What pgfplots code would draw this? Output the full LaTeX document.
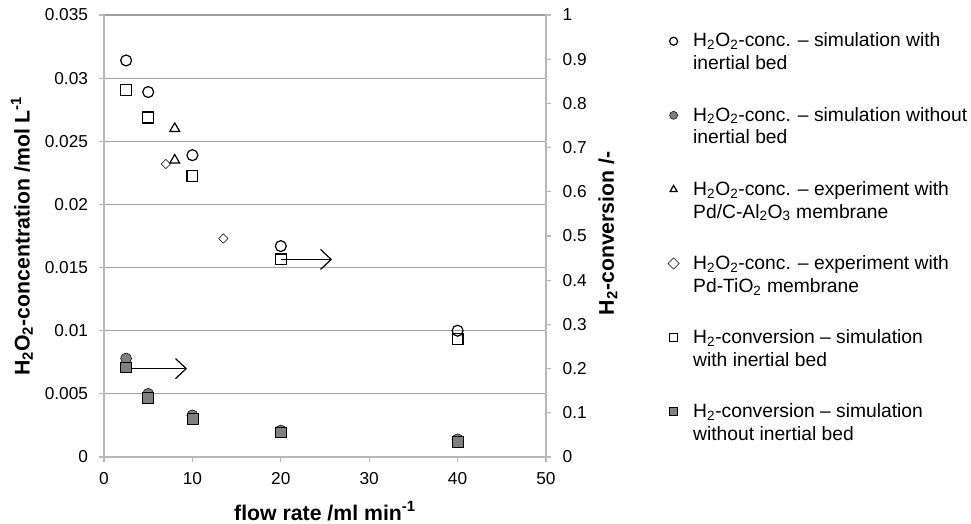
\documentclass[border=0pt]{standalone}
\usepackage{fontspec}
\setmainfont{Liberation Sans}
\usepackage{pgfplots}
\pgfplotsset{compat=1.18}
\usetikzlibrary{arrows.meta}
\definecolor{markgray}{RGB}{128,128,128}
\definecolor{gridgray}{RGB}{160,160,160}
\definecolor{axisgray}{RGB}{185,185,185}

\begin{document}
\fontsize{13}{16}\selectfont
\begin{tikzpicture}
\useasboundingbox (-78bp,-50.25bp) rectangle (650.25bp,342.75bp);
\pgfplotsset{
  common/.style={
    scale only axis, width=331.5bp, height=331.5bp,
    xmin=0, xmax=50,
    only marks,
    axis line style={axisgray, line width=0.8bp},
    tick style={axisgray, line width=0.8bp},
    tick align=outside, major tick length=4bp,
    /pgf/number format/assume math mode=true,
    scaled y ticks=false,
    label style={font=\fontsize{16}{19}\selectfont\bfseries},
    mark options={line width=0.9bp, solid},
  },
  % legend marker: one small mark at the height of the first text line
  legmark/.style={
    legend image code/.code={
      \path[draw=none, fill=none] (-5bp,0bp) -- (12.7bp,0bp);
      \draw[##1, mark size=3bp] plot coordinates {(0bp,8.6bp)};
    },
  },
}
\begin{axis}[
  common,
  ymin=0, ymax=0.035,
  axis x line*=bottom, axis y line*=left,
  xtick={0,10,20,30,40,50},
  ytick={0,0.005,0.01,0.015,0.02,0.025,0.03,0.035},
  yticklabel style={/pgf/number format/fixed, /pgf/number format/precision=3, xshift=-3.5bp},
  xticklabel style={yshift=-3bp},
  xlabel style={yshift=-4bp},
  ymajorgrids, grid style={gridgray, line width=0.8bp},
  xlabel={flow rate /ml min\textsuperscript{-1}},
  ylabel={H\textsubscript{2}O\textsubscript{2}-concentration /mol L\textsuperscript{-1}},
  legend style={at={(rel axis cs:1.264,0.972)}, anchor=north west, draw=none, fill=none,
                font=\fontsize{14.5}{17.25}\selectfont, row sep=22bp,
                cells={align=left, anchor=west}},
  legend cell align=left,
]
\addplot+[mark=o, black, mark size=4.1bp, legmark] coordinates {
  (2.5,0.0314) (5,0.0289) (10,0.0239) (20,0.0167) (40,0.0100)
};
\addlegendentry{H\textsubscript{2}O\textsubscript{2}-conc. – simulation with\\inertial bed}
\addplot+[mark=*, black, mark options={fill=markgray}, mark size=4.1bp, legmark] coordinates {
  (2.5,0.0078) (5,0.0050) (10,0.0033) (20,0.0021) (40,0.0014)
};
\addlegendentry{H\textsubscript{2}O\textsubscript{2}-conc. – simulation without\\inertial bed}
\addplot+[mark=triangle, black, mark size=4.3bp, legmark] coordinates {
  (8,0.0260) (8,0.0235)
};
\addlegendentry{H\textsubscript{2}O\textsubscript{2}-conc. – experiment with\\Pd/C-Al\textsubscript{2}O\textsubscript{3} membrane}
\addplot+[mark=square, black, mark options={rotate=45}, mark size=2.5bp, legmark] coordinates {
  (7,0.0232) (13.5,0.0173)
};
\addlegendentry{H\textsubscript{2}O\textsubscript{2}-conc. – experiment with\\Pd-TiO\textsubscript{2} membrane}
\addlegendimage{only marks, black, mark=square, mark options={line width=0.9bp}, legmark}
\addlegendentry{H\textsubscript{2}-conversion – simulation\\with inertial bed}
\addlegendimage{only marks, black, mark=square*, mark options={fill=markgray, line width=0.9bp}, legmark}
\addlegendentry{H\textsubscript{2}-conversion – simulation\\without inertial bed}
\end{axis}

\begin{axis}[
  common,
  ymin=0, ymax=1,
  axis x line=none, axis y line*=right,
  ytick={0,0.1,0.2,0.3,0.4,0.5,0.6,0.7,0.8,0.9,1},
  yticklabel style={xshift=4bp},
  ylabel style={xshift=2bp},
  ylabel={H\textsubscript{2}-conversion /-},
]
\addplot+[mark=square, black, mark size=4.1bp] coordinates {
  (2.5,0.830) (5,0.768) (10,0.636) (20,0.447) (40,0.267)
};
\addplot+[mark=square*, black, mark options={fill=markgray}, mark size=4.1bp] coordinates {
  (2.5,0.203) (5,0.134) (10,0.086) (20,0.056) (40,0.034)
};
\draw[-{Straight Barb[length=8bp, width=15bp]}, line width=0.9bp]
  (axis cs:2.5,0.2) -- (axis cs:9.4,0.2);
\draw[-{Straight Barb[length=8bp, width=15bp]}, line width=0.9bp]
  (axis cs:20,0.447) -- (axis cs:25.8,0.447);
\end{axis}
\end{tikzpicture}
\end{document}
